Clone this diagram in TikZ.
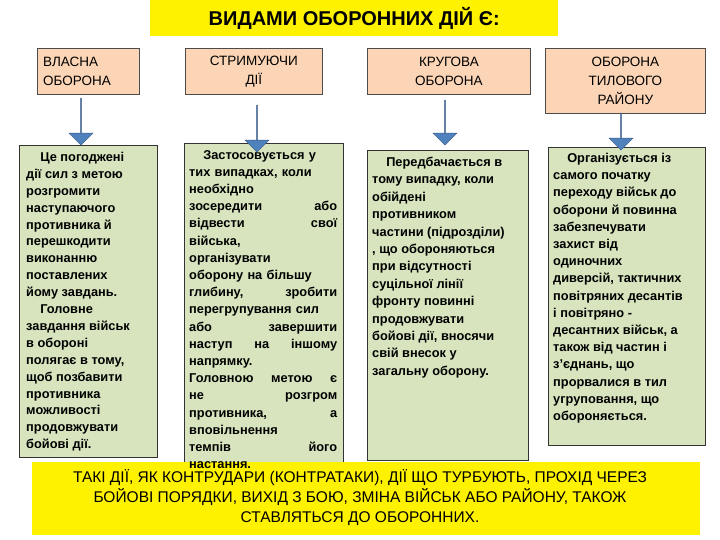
\documentclass[tikz,border=0pt]{standalone}
\usepackage{fontspec}
\setmainfont{Liberation Sans}
\usetikzlibrary{shapes.arrows}
\definecolor{peach}{HTML}{FBD5B5}
\definecolor{pgreen}{HTML}{D7E4BD}
\definecolor{ablue}{HTML}{4F81BD}
\begin{document}
\begin{tikzpicture}[x=1pt,y=-1pt,
  top/.style={draw=black!70,fill=peach,line width=0.8pt,align=center,font=\fontsize{13.5}{19}\selectfont,anchor=north west,inner sep=0pt},
  body/.style={draw=black!80,fill=pgreen,line width=0.8pt,anchor=north west,inner sep=0pt},
  dn/.style={single arrow,draw=ablue!70!black,fill=ablue,shape border rotate=270,single arrow head extend=6pt,minimum width=24pt,inner sep=0pt,single arrow tip angle=90},
  txt/.style={anchor=north west,align=left,font=\bfseries\fontsize{12.8}{#1}\selectfont,inner sep=0pt}]
\useasboundingbox (0,0) rectangle (720,540);
\fill[white] (0,0) rectangle (720,540);
% title
\node[fill=yellow,minimum width=408pt,minimum height=36pt,anchor=north west,inner sep=0pt,font=\bfseries\fontsize{20}{22}\selectfont] (title) at (150,0) {ВИДАМИ ОБОРОННИХ ДІЙ Є:};
% top boxes
\node[top,minimum width=102pt,minimum height=46pt] (t1) at (37,48) {};
\node[anchor=west,align=left,font=\fontsize{13.5}{19}\selectfont,inner sep=0pt] at (43,71) {ВЛАСНА\\ОБОРОНА};
\node[top,minimum width=137pt,minimum height=46pt] (t2) at (185,48) {СТРИМУЮЧИ\\ДІЇ};
\node[top,minimum width=163pt,minimum height=46pt] (t3) at (367,48) {КРУГОВА\\ОБОРОНА};
\node[top,minimum width=160pt,minimum height=65pt] (t4) at (545,48) {ОБОРОНА\\ТИЛОВОГО\\РАЙОНУ};
% body boxes
\node[body,minimum width=138pt,minimum height=312pt] (b1) at (19,145) {};
\node[body,minimum width=159pt,minimum height=334pt] (b2) at (184,143) {};
\node[body,minimum width=161pt,minimum height=310pt] (b3) at (367,150) {};
\node[body,minimum width=157pt,minimum height=298pt] (b4) at (548,147) {};
% arrows
\node[dn,minimum height=47pt] (a1) at (81,121.5) {\rule{0pt}{12pt}};
\node[dn,minimum height=47pt] (a2) at (257,128.5) {\rule{0pt}{12pt}};
\node[dn,minimum height=45pt] (a3) at (445,122.5) {\rule{0pt}{12pt}};
\node[dn,minimum height=37pt] (a4) at (621,131.5) {\rule{0pt}{12pt}};
% bottom yellow
\node[fill=yellow,minimum width=668pt,minimum height=73pt,anchor=north west,inner sep=0pt] (bot) at (32,462) {};
\node[align=center,font=\fontsize{15.5}{20}\selectfont] (bt) at (360,498) {ТАКІ ДІЇ, ЯК КОНТРУДАРИ (КОНТРАТАКИ), ДІЇ ЩО ТУРБУЮТЬ, ПРОХІД ЧЕРЕЗ\\БОЙОВІ ПОРЯДКИ, ВИХІД З БОЮ, ЗМІНА ВІЙСЬК АБО РАЙОНУ, ТАКОЖ\\СТАВЛЯТЬСЯ ДО ОБОРОННИХ.};
% body text
\node[txt=16.9] (x1) at (26,152) {\hspace*{1.1em}Це погоджені\\дії сил з метою\\розгромити\\наступаючого\\противника й\\перешкодити\\виконанню\\поставлених\\йому завдань.\\\hspace*{1.1em}Головне\\завдання військ\\в обороні\\полягає в тому,\\щоб позбавити\\противника\\можливості\\продовжувати\\бойові дії.};
\node[txt=17.2,text width=148pt] (x2) at (189,150) {\hspace*{1.1em}Застосовується у\\тих випадках, коли\\необхідно\\зосередити\hfill або\\відвести\hfill свої\\війська,\\організувати\\оборону на більшу\\глибину,\hfill зробити\\перегрупування сил\\або\hfill завершити\\наступ\hfill на\hfill іншому\\напрямку.\\Головною\hfill метою\hfill є\\не\hfill розгром\\противника,\hfill а\\вповільнення\\темпів\hfill його\\настання.};
\node[txt=17.4] (x3) at (372,157) {\hspace*{1.1em}Передбачається в\\тому випадку, коли\\обійдені\\противником\\частини (підрозділи)\\, що обороняються\\при відсутності\\суцільної лінії\\фронту повинні\\продовжувати\\бойові дії, вносячи\\свій внесок у\\загальну оборону.};
\node[txt=17.2] (x4) at (553,153) {\hspace*{1.1em}Організується із\\самого початку\\переходу військ до\\оборони й повинна\\забезпечувати\\захист від\\одиночних\\диверсій, тактичних\\повітряних десантів\\і повітряно -\\десантних військ, а\\також від частин і\\з'єднань, що\\прорвалися в тил\\угруповання, що\\обороняється.};
\end{tikzpicture}
\end{document}
